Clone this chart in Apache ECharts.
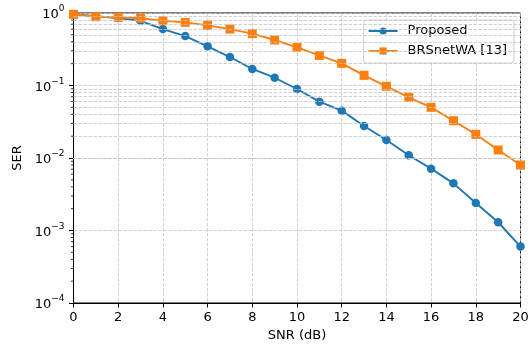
<!DOCTYPE html>
<html>
<head>
<meta charset="utf-8">
<script src="https://cdn.jsdelivr.net/npm/echarts@6/dist/echarts.min.js"></script>
<style>html,body{margin:0;padding:0;background:#fff}#c{width:530px;height:345px}</style>
</head>
<body>
<div id="c"></div>
<script>
const snr = [0,1,2,3,4,5,6,7,8,9,10,11,12,13,14,15,16,17,18,19,20];
const proposed = [0.96,0.9,0.85,0.78,0.6,0.48,0.347,0.247,0.169,0.128,0.0895,0.0598,0.045,0.0276,0.0177,0.0109,0.00713,0.00447,0.0024,0.0013,0.0006];
const brsnet = [0.96,0.89,0.87,0.845,0.78,0.743,0.676,0.6,0.519,0.424,0.336,0.26,0.202,0.138,0.0975,0.0687,0.05,0.0327,0.0212,0.0129,0.008];
const xTicks = [0,2,4,6,8,10,12,14,16,18,20];
const names = ['Proposed','BRSnetWA [13]'];

const FONT = 'DejaVu Sans';
const FS = 13;
const minorVals = [];
for (let e = -4; e < 0; e++) for (let m = 2; m <= 9; m++) minorVals.push(m * Math.pow(10, e));

const chart = echarts.init(document.getElementById('c'), null, {renderer:'canvas'});
const gridStyle = {color:'#c4c4c4', type:[3.5,1.5], width:0.8};
chart.setOption({
  animation:false,
  backgroundColor:'#fff',
  textStyle:{fontFamily:FONT},
  grid:{left:73.5, right:9.5, top:13, bottom:42, containLabel:false, outerBoundsMode:'none',
        show:true, borderColor:'#000', borderWidth:1, backgroundColor:'transparent'},
  legend:{
    orient:'vertical', right:16, top:20, itemGap:6, itemWidth:29, itemHeight:9,
    backgroundColor:'rgba(255,255,255,0.85)', borderColor:'#d0d0d0', borderWidth:1, borderRadius:3,
    padding:[4,7,5,4], textStyle:{fontFamily:FONT, fontSize:FS, lineHeight:14, color:'#000', padding:[0,0,0,5]},
    data:names
  },
  xAxis:{
    type:'value', min:0, max:20, interval:2,
    name:'SNR (dB)', nameLocation:'middle', nameGap:18,
    nameTextStyle:{fontFamily:FONT, fontSize:FS, color:'#000', verticalAlign:'top'},
    axisLine:{show:true, onZero:false, lineStyle:{color:'#000', width:1}},
    axisTick:{show:true, inside:false, length:4.5, lineStyle:{color:'#000'}},
    axisLabel:{fontFamily:FONT, fontSize:FS, color:'#000', margin:8},
    splitLine:{show:true, lineStyle:gridStyle}
  },
  yAxis:{
    type:'log', logBase:10, min:1e-4, max:1,
    name:'SER', nameLocation:'middle', nameGap:43, nameRotate:90,
    nameTextStyle:{fontFamily:FONT, fontSize:FS, color:'#000'},
    axisLine:{show:true, lineStyle:{color:'#000', width:1}},
    axisTick:{show:true, inside:false, length:4.5, lineStyle:{color:'#000'}},
    axisLabel:{
      fontFamily:FONT, color:'#000', margin:9,
      formatter:function(v){ const e = Math.round(Math.log10(v)); return '{b|10}{s|' + (e<0?'\u2212':'') + Math.abs(e) + '}'; },
      rich:{ b:{fontFamily:FONT, fontSize:FS, color:'#000', lineHeight:17, verticalAlign:'bottom'}, s:{fontFamily:FONT, fontSize:9, color:'#000', lineHeight:17, verticalAlign:'top'} }
    },
    splitLine:{show:true, lineStyle:gridStyle}
  },
  series:[
    {name:'grid-minor', type:'line', data:[], silent:true,
     markLine:{silent:true, symbol:'none', label:{show:false}, animation:false,
       lineStyle:gridStyle, emphasis:{disabled:true},
       data:minorVals.map(v=>({yAxis:v}))}},
    {name:names[0], type:'line', data:snr.map((x,i)=>[x,proposed[i]]),
     symbol:'circle', symbolSize:8.5, color:'#1f77b4', itemStyle:{color:'#1f77b4', borderWidth:0}, lineStyle:{width:1.9}, z:3},
    {name:names[1], type:'line', data:snr.map((x,i)=>[x,brsnet[i]]),
     symbol:'rect', symbolSize:9, color:'#ff7f0e', itemStyle:{color:'#ff7f0e', borderWidth:0}, lineStyle:{width:1.9}, z:4}
  ]
});

// minor tick marks on y axis
const g = [];
minorVals.forEach(v=>{
  const p = chart.convertToPixel({gridIndex:0}, [0, v]);
  g.push({type:'line', shape:{x1:p[0]-2.6, y1:p[1], x2:p[0], y2:p[1]}, style:{stroke:'#000', lineWidth:0.8}, silent:true});
});
chart.setOption({graphic:g});
</script>
</body>
</html>
